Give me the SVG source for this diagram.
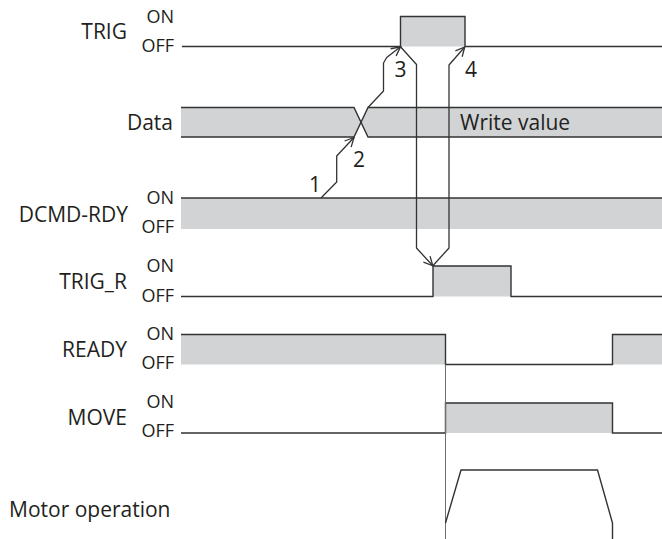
<svg xmlns="http://www.w3.org/2000/svg" width="662" height="539" viewBox="0 0 662 539">
<defs>
<style>
.bg{fill:#ffffff}
.fill{fill:#d1d3d4;stroke:none}
.ln{fill:none;stroke:#333333;stroke-width:1.4;stroke-linejoin:miter}
.thin{fill:none;stroke:#6d6e71;stroke-width:1}
.conn{fill:none;stroke:#333333;stroke-width:1.3;stroke-linejoin:round}
.lbl{font-family:"Open Sans","Liberation Sans",Arial,sans-serif;font-size:21px;fill:#231f20}
.st{font-family:"Open Sans","Liberation Sans",Arial,sans-serif;font-size:18px;fill:#231f20;text-anchor:end}
.num{font-family:"Open Sans","Liberation Sans",Arial,sans-serif;font-size:21px;fill:#231f20;text-anchor:middle}
.r{text-anchor:end}
</style>
<marker id="arr" markerWidth="12" markerHeight="12" refX="10" refY="5" orient="auto" markerUnits="userSpaceOnUse" viewBox="0 0 12 10">
<path d="M1,0.5 L10,5 L1,9.5" fill="none" stroke="#333333" stroke-width="1.3"/>
</marker>
</defs>
<rect class="bg" x="0" y="0" width="662" height="539"/>

<g id="trig">
<rect class="fill" x="400.5" y="16" width="64.5" height="30.5"/>
<polyline class="ln" points="182,46.5 400.5,46.5 400.5,16.5 465,16.5 465,46.5 662,46.5"/>
<text class="lbl r" x="127" y="39">TRIG</text>
<text class="st" x="174" y="23">ON</text>
<text class="st" x="174" y="52">OFF</text>
</g>

<g id="data">
<polygon class="fill" points="181,107.5 354,107.5 361,122.3 354,137 181,137"/>
<polygon class="fill" points="368,107.5 662,107.5 662,137 368,137 361,122.3"/>
<polyline class="ln" points="181,107.5 354,107.5 368,137 662,137"/>
<polyline class="ln" points="181,137 354,137 368,107.5 662,107.5"/>
<text class="lbl r" x="173" y="130">Data</text>
<text class="lbl" x="460" y="130">Write value</text>
</g>

<g id="dcmd-rdy">
<rect class="fill" x="181" y="198" width="481" height="31"/>
<line class="ln" x1="181" y1="198" x2="662" y2="198"/>
<text class="lbl r" x="128" y="222">DCMD-RDY</text>
<text class="st" x="174" y="204">ON</text>
<text class="st" x="174" y="233">OFF</text>
</g>

<g id="trig-r">
<rect class="fill" x="433" y="266" width="78" height="30.5"/>
<polyline class="ln" points="181,296.5 433,296.5 433,266 511,266 511,296.5 662,296.5"/>
<text class="lbl r" x="127" y="289">TRIG_R</text>
<text class="st" x="174" y="272">ON</text>
<text class="st" x="174" y="302">OFF</text>
</g>

<g id="ready">
<rect class="fill" x="181" y="334.5" width="264.5" height="30"/>
<rect class="fill" x="612.5" y="334.5" width="49.5" height="30"/>
<polyline class="ln" points="181,334.5 445.5,334.5 445.5,364.5 612.5,364.5 612.5,334.5 662,334.5"/>
<text class="lbl r" x="127" y="357">READY</text>
<text class="st" x="174" y="340">ON</text>
<text class="st" x="174" y="369">OFF</text>
</g>

<g id="move">
<rect class="fill" x="445.5" y="403" width="167" height="30"/>
<polyline class="ln" points="181,433 445.5,433 445.5,403 612.5,403 612.5,433 662,433"/>
<text class="lbl r" x="127" y="425">MOVE</text>
<text class="st" x="174" y="408">ON</text>
<text class="st" x="174" y="437">OFF</text>
</g>

<g id="motor-operation">
<line class="thin" x1="445.5" y1="364.5" x2="445.5" y2="539"/>
<polyline class="ln" points="445.5,523 461,470 597.5,470 612.5,523 612.5,539"/>
<text class="lbl" x="9" y="517">Motor operation</text>
</g>

<g id="connectors">
<path class="conn" d="M321,198 L336.7,182 L336.7,156 L354,137.5" marker-end="url(#arr)"/>
<path class="conn" d="M368,107.5 L383.5,91 L383.5,63 L386.7,57.5 L400.5,46.8" marker-end="url(#arr)"/>
<path class="conn" d="M400.5,46.8 L416.5,64.5 L416.5,248 L432.8,265.8" marker-end="url(#arr)"/>
<path class="conn" d="M432.8,265.8 L449,248 L449,65 L464.7,47" marker-end="url(#arr)"/>
<text class="num" x="315" y="192">1</text>
<text class="num" x="359" y="167">2</text>
<text class="num" x="400.5" y="77">3</text>
<text class="num" x="471" y="77">4</text>
</g>
</svg>
